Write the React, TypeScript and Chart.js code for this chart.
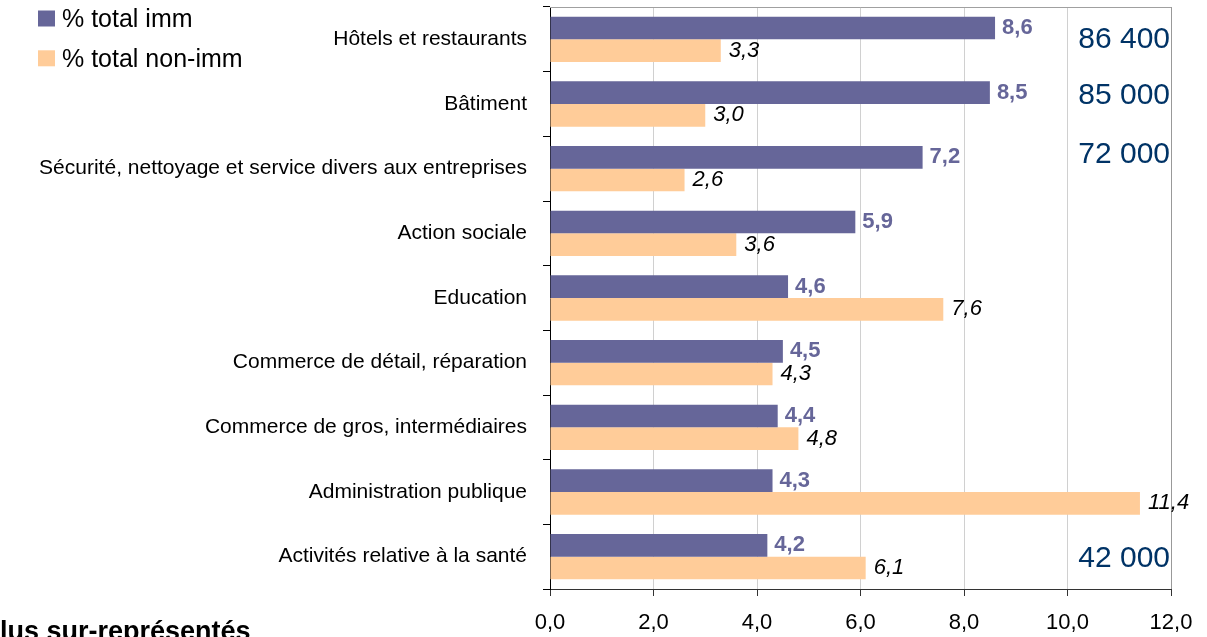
import React, { useEffect, useRef } from "react";
import { Chart, registerables } from "chart.js";

Chart.register(...registerables);

const categories = [
  "Hôtels et restaurants",
  "Bâtiment",
  "Sécurité, nettoyage et service divers aux entreprises",
  "Action sociale",
  "Education",
  "Commerce de détail, réparation",
  "Commerce de gros, intermédiaires",
  "Administration publique",
  "Activités relative à la santé",
];
const seriesNames = ["% total imm", "% total non-imm"];
const immValues = [8.6, 8.5, 7.2, 5.9, 4.6, 4.5, 4.4, 4.3, 4.2];
const nonImmValues = [3.3, 3.0, 2.6, 3.6, 7.6, 4.3, 4.8, 11.4, 6.1];
const xTicks = [0, 2, 4, 6, 8, 10, 12];
const annotationTexts = ["86 400", "85 000", "72 000", "42 000"];
// position along the category axis (category index units)
const annotationPositions = [-0.03, 0.84, 1.745, 7.99];
const footerText = "lus sur-représentés";

const COLORS = ["#666699", "#FFCC99"];
const FONT = "'Liberation Sans', Arial, sans-serif";

const fmt = (v: number) => v.toFixed(1).replace(".", ",");

const extrasPlugin = {
  id: "extras",
  afterDatasetsDraw(chart: any) {
    const ctx = chart.ctx;
    const area = chart.chartArea;
    ctx.save();
    // top border
    ctx.strokeStyle = "#a0a0a0";
    ctx.lineWidth = 1;
    ctx.beginPath();
    ctx.moveTo(area.left, area.top + 0.5);
    ctx.lineTo(area.right, area.top + 0.5);
    ctx.stroke();

    // value labels
    chart.data.datasets.forEach((ds: any, di: number) => {
      const meta = chart.getDatasetMeta(di);
      const size = 22;
      ctx.font = di === 0 ? `bold ${size}px ${FONT}` : `italic ${size}px ${FONT}`;
      ctx.fillStyle = di === 0 ? "#666699" : "#000000";
      ctx.textAlign = "left";
      ctx.textBaseline = "alphabetic";
      meta.data.forEach((el: any, i: number) => {
        const v = ds.data[i];
        const gap = di === 0 ? 7 : 8;
        const cy = el.y - 2;
        ctx.fillText(fmt(v), el.x + gap, cy + size * 0.358);
      });
    });

    // right-side annotations
    const yScale = chart.scales.y;
    ctx.font = `30px ${FONT}`;
    ctx.fillStyle = "#003366";
    ctx.textAlign = "right";
    annotationTexts.forEach((t, i) => {
      const cy = yScale.getPixelForValue(annotationPositions[i]);
      ctx.fillText(t, area.right - 1, cy + 30 * 0.358);
    });

    // legend
    ctx.font = `25px ${FONT}`;
    ctx.textAlign = "left";
    const rowCenters = [18.5, 58.3];
    seriesNames.forEach((name, i) => {
      ctx.fillStyle = COLORS[i];
      ctx.fillRect(38, rowCenters[i] - 8, 17, 16);
      ctx.fillStyle = "#000000";
      ctx.fillText(name, 62, rowCenters[i] + 8.5);
    });

    // footer text (clipped)
    ctx.font = `bold 27px ${FONT}`;
    ctx.fillStyle = "#000000";
    ctx.fillText(footerText, 0, 640);
    ctx.restore();
  },
};

export default function App() {
  const ref = useRef<HTMLCanvasElement | null>(null);
  useEffect(() => {
    if (!ref.current) return;
    Chart.defaults.font.family = FONT;
    const chart = new Chart(ref.current, {
      type: "bar",
      data: {
        labels: categories,
        datasets: [
          {
            label: seriesNames[0],
            data: immValues,
            backgroundColor: COLORS[0],
            categoryPercentage: 0.7,
            barPercentage: 1,
          },
          {
            label: seriesNames[1],
            data: nonImmValues,
            backgroundColor: COLORS[1],
            categoryPercentage: 0.7,
            barPercentage: 1,
          },
        ],
      },
      options: {
        indexAxis: "y",
        animation: false,
        responsive: true,
        maintainAspectRatio: false,
        layout: { padding: { top: 7, right: 36, left: 0, bottom: 0 } },
        plugins: {
          legend: { display: false },
          tooltip: { enabled: false },
        },
        scales: {
          x: {
            min: xTicks[0],
            max: xTicks[xTicks.length - 1],
            afterBuildTicks: (scale: any) => {
              scale.ticks = xTicks.map((v) => ({ value: v }));
            },
            afterFit: (scale: any) => {
              scale.height = 48;
              scale.paddingLeft = 0;
              scale.paddingRight = 0;
            },
            ticks: {
              callback: (v: any) => fmt(Number(v)),
              color: "#000000",
              font: { size: 22, family: FONT },
              padding: 14,
              maxRotation: 0,
            },
            grid: {
              color: (c: any) =>
                c.index === 0 ? "rgba(0,0,0,0)" : c.index === xTicks.length - 1 ? "#999999" : "#d0d0d0",
              tickColor: "#333333",
              tickLength: 7,
              lineWidth: 1,
            },
            border: { display: true, color: "#333333", width: 1 },
          },
          y: {
            type: "category",
            afterFit: (scale: any) => {
              scale.width = 550;
              scale.paddingTop = 0;
              scale.paddingBottom = 0;
            },
            ticks: {
              color: "#000000",
              font: { size: 21, family: FONT },
              padding: 16,
            },
            grid: {
              drawOnChartArea: false,
              drawTicks: true,
              tickLength: 7,
              tickColor: "#000000",
              offset: true,
            },
            border: { display: true, color: "#000000", width: 1 },
          },
        },
      },
      plugins: [extrasPlugin],
    } as any);
    return () => chart.destroy();
  }, []);
  return (
    <div style={{ position: "fixed", left: 0, top: 0, width: 1207, height: 637, background: "#ffffff" }}>
      <canvas ref={ref} />
    </div>
  );
}
